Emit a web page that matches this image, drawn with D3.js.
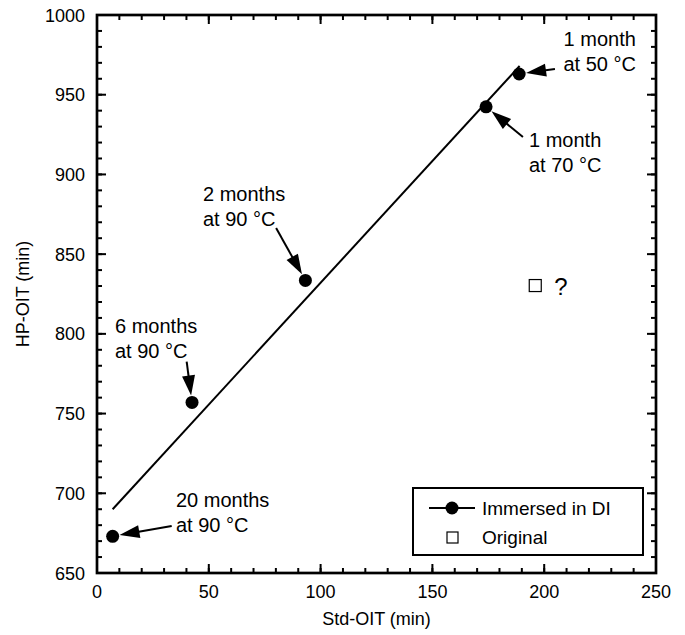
<!DOCTYPE html>
<html>
<head>
<meta charset="utf-8">
<script src="https://cdn.jsdelivr.net/npm/d3@7"></script>
<style>
  html, body { margin: 0; padding: 0; background: #fff; }
  svg { display: block; font-family: "Liberation Sans", Arial, Helvetica, sans-serif; }
</style>
</head>
<body>
<svg id="chart" width="685" height="635"></svg>
<script>
// Aged samples immersed in DI water: Std-OIT vs HP-OIT (minutes)
const immersedStd = [7, 42.5, 93.2, 174, 188.8];
const immersedHp  = [673, 757, 833.5, 942.4, 963];
const immersedLabels = [
  ["20 months", "at 90 °C"],
  ["6 months", "at 90 °C"],
  ["2 months", "at 90 °C"],
  ["1 month", "at 70 °C"],
  ["1 month", "at 50 °C"]
];
// label position (data units) and arrow tail (data units)
const labelX     = [35.3, 8.05, 47.4, 193.2, 241];
const labelY     = [691.4, 800.6, 883.4, 917.3, 980.6];
const labelAnchor = ["start", "start", "start", "start", "end"];
const arrowTailX = [33.4, 40.1, 80.1, 190.5, 204.8];
const arrowTailY = [679.5, 782.6, 866.4, 923.5, 966.2];

// regression line endpoints
const fitStd = [7, 189];
const fitHp  = [690, 968];

// original (unaged) sample
const originalStd = [196];
const originalHp  = [830.3];

const xTicks = [0, 50, 100, 150, 200, 250];
const yTicks = [650, 700, 750, 800, 850, 900, 950, 1000];

const svg = d3.select("#chart");
const pLeft = 97, pRight = 656, pTop = 15, pBottom = 573;

const x = d3.scaleLinear().domain([0, 250]).range([pLeft, pRight]);
const y = d3.scaleLinear().domain([650, 1000]).range([pBottom, pTop]);

const minorX = d3.range(0, 251, 10);
const minorY = d3.range(650, 1001, 10);

// tick marks, all pointing inward on four sides
const tickG = svg.append("g").attr("stroke", "#000").attr("stroke-width", 2);
function ticks(vals, len, side) {
  vals.forEach(v => {
    if (side === "bottom") tickG.append("line").attr("x1", x(v)).attr("x2", x(v)).attr("y1", pBottom).attr("y2", pBottom - len);
    if (side === "top") tickG.append("line").attr("x1", x(v)).attr("x2", x(v)).attr("y1", pTop).attr("y2", pTop + len);
    if (side === "left") tickG.append("line").attr("y1", y(v)).attr("y2", y(v)).attr("x1", pLeft).attr("x2", pLeft + len);
    if (side === "right") tickG.append("line").attr("y1", y(v)).attr("y2", y(v)).attr("x1", pRight).attr("x2", pRight - len);
  });
}
ticks(minorX, 5, "bottom"); ticks(minorX, 5, "top");
ticks(xTicks, 9, "bottom"); ticks(xTicks, 9, "top");
ticks(minorY, 5, "left"); ticks(minorY, 5, "right");
ticks(yTicks, 9, "left"); ticks(yTicks, 9, "right");

// frame
svg.append("rect").attr("x", pLeft).attr("y", pTop)
  .attr("width", pRight - pLeft).attr("height", pBottom - pTop)
  .attr("fill", "none").attr("stroke", "#000").attr("stroke-width", 2.7);

// tick labels
svg.append("g").selectAll("text").data(xTicks).join("text")
  .attr("x", d => x(d)).attr("y", pBottom + 25)
  .attr("text-anchor", "middle").attr("font-size", 18).text(d => d);
svg.append("g").selectAll("text").data(yTicks).join("text")
  .attr("x", pLeft - 12).attr("y", d => y(d) + 6.5)
  .attr("text-anchor", "end").attr("font-size", 18).text(d => d);

// axis titles
svg.append("text").attr("x", (pLeft + pRight) / 2).attr("y", pBottom + 52)
  .attr("text-anchor", "middle").attr("font-size", 18).text("Std-OIT (min)");
svg.append("text").attr("transform", `translate(29,${(pTop + pBottom) / 2}) rotate(-90)`)
  .attr("text-anchor", "middle").attr("font-size", 18).text("HP-OIT (min)");

// fit line
svg.append("path")
  .datum(d3.zip(fitStd, fitHp))
  .attr("d", d3.line().x(d => x(d[0])).y(d => y(d[1])))
  .attr("fill", "none").attr("stroke", "#000").attr("stroke-width", 2);

// immersed samples
const pts = d3.zip(immersedStd, immersedHp);
svg.append("g").selectAll("circle").data(pts).join("circle")
  .attr("cx", d => x(d[0])).attr("cy", d => y(d[1])).attr("r", 6.5).attr("fill", "#000");

// original sample
svg.append("g").selectAll("rect").data(d3.zip(originalStd, originalHp)).join("rect")
  .attr("x", d => x(d[0]) - 6).attr("y", d => y(d[1]) - 6)
  .attr("width", 12).attr("height", 12)
  .attr("fill", "#fff").attr("stroke", "#000").attr("stroke-width", 1.2);
svg.append("text").attr("x", x(originalStd[0]) + 19).attr("y", y(originalHp[0]) + 9)
  .attr("font-size", 24).text("?");

// annotations with arrows
const annG = svg.append("g");
pts.forEach((p, i) => {
  const tx = x(arrowTailX[i]), ty = y(arrowTailY[i]);
  const px = x(p[0]), py = y(p[1]);
  const dx = px - tx, dy = py - ty, len = Math.hypot(dx, dy);
  const ux = dx / len, uy = dy / len;
  const tipX = px - ux * 7, tipY = py - uy * 7;
  const headLen = 20, headW = 6.5;
  const bx = tipX - ux * headLen, by = tipY - uy * headLen;
  annG.append("line").attr("x1", tx).attr("y1", ty).attr("x2", bx + ux * 2).attr("y2", by + uy * 2)
    .attr("stroke", "#000").attr("stroke-width", 2);
  annG.append("path")
    .attr("d", `M${tipX},${tipY}L${bx - uy * headW},${by + ux * headW}L${bx + uy * headW},${by - ux * headW}Z`)
    .attr("fill", "#000");
  const t = annG.append("text").attr("x", x(labelX[i])).attr("y", y(labelY[i]))
    .attr("text-anchor", labelAnchor[i]).attr("font-size", 20);
  immersedLabels[i].forEach((s, j) => {
    t.append("tspan").attr("x", x(labelX[i])).attr("dy", j === 0 ? 0 : 25).text(s);
  });
});

// legend
const lg = svg.append("g");
const lgX = 413, lgY = 488, lgW = 230, lgH = 67;
lg.append("rect").attr("x", lgX).attr("y", lgY).attr("width", lgW).attr("height", lgH)
  .attr("fill", "#fff").attr("stroke", "#000").attr("stroke-width", 2);
lg.append("line").attr("x1", lgX + 16).attr("x2", lgX + 62).attr("y1", lgY + 20).attr("y2", lgY + 20)
  .attr("stroke", "#000").attr("stroke-width", 2);
lg.append("circle").attr("cx", lgX + 39).attr("cy", lgY + 20).attr("r", 6.5).attr("fill", "#000");
lg.append("text").attr("x", lgX + 69).attr("y", lgY + 27).attr("font-size", 19).text("Immersed in DI");
lg.append("rect").attr("x", lgX + 34).attr("y", lgY + 44).attr("width", 11).attr("height", 11)
  .attr("fill", "#fff").attr("stroke", "#000").attr("stroke-width", 1.2);
lg.append("text").attr("x", lgX + 69).attr("y", lgY + 56).attr("font-size", 19).text("Original");
</script>
</body>
</html>
